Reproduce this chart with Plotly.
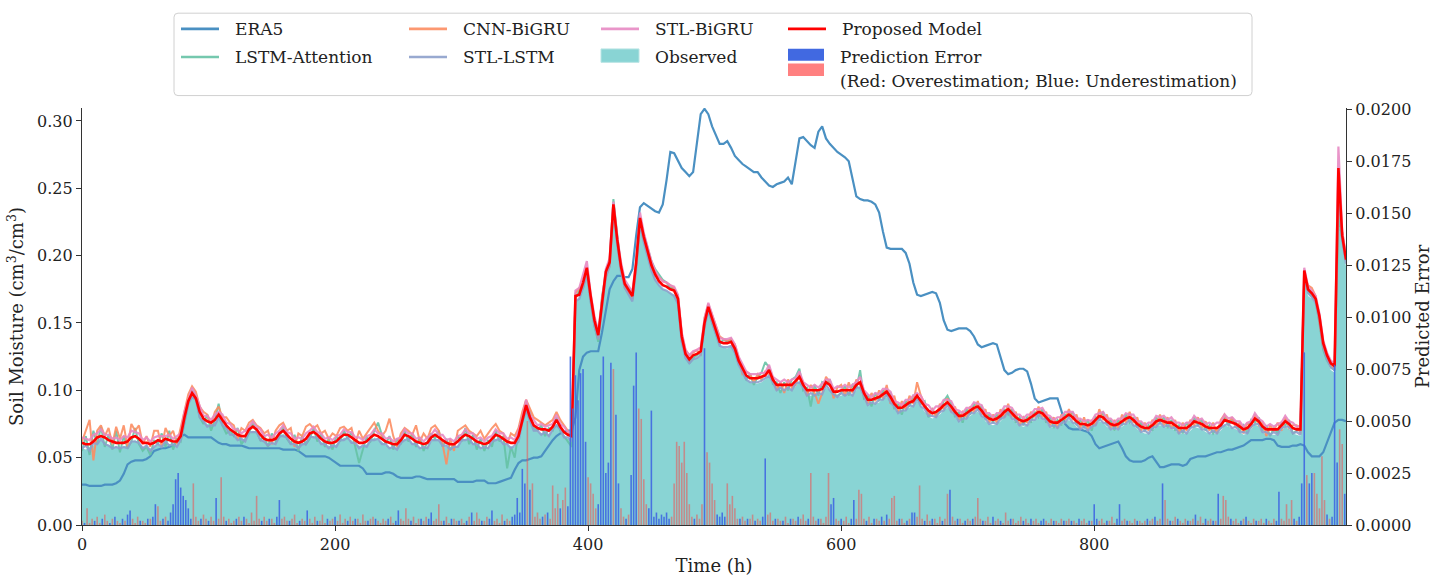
import plotly.graph_objects as go

# ---------------- data (values in 1e-3 cm3/cm3, hourly grid every 3 h) ----------------
hours = list(range(0, 1000, 3))          # 334 points, 0..999 h
err_hours = list(range(0, 1000, 2))      # 500 points, 0..998 h

era5_milli = [
    30,30,29,29,29,29,30,30,30,31,33,38,45,47,48,48,48,49,51,55,
    56,57,57,58,59,61,66,67,65,65,65,65,65,65,65,63,61,60,60,59,
    59,59,59,58,57,57,57,57,57,57,57,57,57,56,56,56,56,55,53,51,
    51,51,51,51,51,50,48,46,44,44,44,44,44,44,42,38,38,38,38,38,
    39,39,38,36,35,35,35,35,36,36,35,34,34,34,34,34,34,34,34,32,
    32,32,32,32,33,33,33,31,31,31,32,33,34,35,41,46,48,48,49,50,
    50,51,55,59,63,66,68,69,70,70,80,115,125,128,129,129,129,143,160,175,
    181,185,185,184,184,190,215,236,239,237,235,233,232,238,256,277,276,270,265,262,
    259,262,285,305,309,305,296,290,283,283,285,280,274,271,268,266,264,262,262,258,
    255,252,251,253,254,255,258,253,270,287,288,285,282,280,292,296,287,283,280,277,
    275,273,270,258,244,242,241,241,240,238,232,218,206,205,205,205,205,202,194,180,
    171,170,171,172,173,172,165,152,145,144,145,146,146,146,144,140,134,132,133,134,
    135,134,125,115,112,113,115,116,116,114,105,94,91,92,93,94,94,94,85,75,
    72,71,71,71,70,69,66,60,57,58,59,60,61,62,57,51,48,47,47,47,
    48,50,51,47,43,43,44,45,45,45,44,45,49,50,51,51,51,52,53,54,
    54,55,56,56,57,58,59,61,63,63,63,63,64,64,63,59,58,58,58,59,
    59,60,59,54,51,51,51,54,61,68,76,78,78,77,
]

lstm_attention_milli = [
    55,66,52,70,60,73,58,67,56,70,54,66,57,62,72,60,55,58,52,63,
    60,68,58,70,56,64,62,76,90,100,96,80,75,82,70,78,90,74,68,70,
    66,72,60,64,68,76,70,63,66,58,68,62,65,73,64,60,67,55,66,60,
    64,72,62,68,58,64,56,66,62,70,64,69,58,46,56,65,62,70,76,67,
    60,66,56,64,60,70,62,68,58,65,55,62,68,64,70,58,64,56,60,66,
    62,72,60,67,56,64,55,63,58,70,62,66,42,58,50,70,82,92,84,72,
    70,74,66,72,70,80,70,66,62,58,168,174,176,190,166,148,136,170,186,196,
    242,214,190,180,176,172,192,224,216,206,196,190,186,182,180,176,176,166,136,128,
    120,124,126,128,148,164,150,142,134,138,136,138,128,120,114,108,112,104,110,113,
    121,117,105,106,98,106,100,108,110,116,100,102,88,104,96,106,104,108,97,96,
    98,103,96,104,101,115,94,96,88,98,92,100,96,98,86,90,82,92,88,96,
    94,90,92,80,86,82,84,92,96,90,80,84,76,86,82,90,86,88,78,82,
    76,82,78,86,82,86,76,80,74,80,76,84,80,86,76,80,72,78,74,82,
    80,84,74,78,72,78,70,80,78,84,74,78,70,78,74,82,76,80,72,76,
    70,74,70,80,76,80,72,78,70,74,68,76,72,80,74,78,70,74,68,72,
    72,80,74,78,76,70,74,68,78,76,80,70,74,66,72,68,76,74,78,68,
    70,72,184,173,170,166,150,130,122,117,115,230,212,196,
]

cnn_bigru_milli = [
    62,70,78,48,70,74,66,72,60,73,64,74,58,75,70,74,60,66,58,70,
    70,58,72,66,70,60,72,84,97,103,99,88,84,82,74,84,88,80,80,76,
    74,64,72,70,76,78,74,72,68,70,60,70,74,76,70,72,58,68,66,73,
    75,72,74,68,70,64,68,66,72,73,70,72,60,70,64,68,72,76,70,66,
    70,79,66,58,68,72,70,67,74,62,68,64,72,74,70,60,45,64,55,70,
    72,74,70,68,66,70,64,68,72,75,70,68,60,68,66,72,84,93,86,80,
    78,76,74,76,78,84,78,74,70,64,172,176,178,188,168,150,138,168,184,192,
    236,210,190,176,172,168,192,226,212,202,192,188,184,181,180,178,176,170,142,130,
    126,128,130,126,154,164,156,148,140,138,137,138,134,124,112,114,112,106,112,108,
    114,112,110,100,106,98,108,102,104,112,106,96,104,98,90,98,110,106,94,102,
    104,96,106,98,108,104,96,90,98,92,100,94,104,90,96,84,92,86,96,90,
    106,96,90,82,86,80,90,86,94,84,88,78,84,80,88,84,92,82,86,76,
    82,76,86,80,90,80,84,74,80,76,84,80,88,80,84,74,80,72,82,78,
    86,78,82,72,80,70,78,74,86,78,82,72,78,72,82,76,84,76,80,70,
    76,70,78,74,82,74,80,72,78,68,76,70,78,74,80,72,77,70,76,68,
    78,82,76,80,72,76,68,76,72,82,74,76,66,74,70,76,70,80,72,74,
    74,68,186,178,176,170,152,132,124,118,116,240,218,200,
]

stl_lstm_milli = [
    57,59,55,61,60,64,60,59,57,58,57,58,57,62,62,61,57,59,55,58,
    60,58,62,59,60,58,63,76,90,95,93,80,77,73,74,74,80,74,72,67,
    67,63,64,62,69,69,69,63,62,59,61,60,66,66,65,60,60,57,60,60,
    66,65,65,60,60,57,59,58,63,63,65,61,61,57,59,58,63,63,64,60,
    60,57,58,56,61,63,64,60,60,57,58,57,63,63,63,59,59,56,58,58,
    63,63,64,60,60,57,58,57,62,63,64,60,60,57,59,62,76,85,78,70,
    70,67,69,66,71,74,71,65,65,62,166,168,176,186,166,148,138,162,184,192,
    234,208,188,176,171,166,190,224,210,200,189,182,178,175,174,172,170,164,136,124,
    120,123,124,126,147,159,150,142,133,132,132,133,128,119,113,108,106,106,106,107,
    109,111,106,100,102,100,102,100,105,106,102,96,98,96,98,97,104,100,97,95,
    98,96,98,96,102,102,96,89,91,90,93,93,97,91,88,83,85,85,89,88,
    94,88,86,81,81,80,84,85,89,84,82,77,79,79,83,83,86,81,79,75,
    76,75,79,80,84,79,78,74,75,74,78,78,82,79,78,73,74,72,76,76,
    80,76,75,71,73,70,73,74,79,76,75,71,72,71,75,75,78,74,73,69,
    70,68,72,73,76,73,74,72,72,68,70,68,72,73,74,71,71,68,70,68,
    72,74,75,72,73,69,69,68,73,75,75,69,69,67,69,67,72,73,73,68,
    69,67,184,172,169,165,152,132,123,117,115,250,212,194,
]

stl_bigru_milli = [
    65,64,63,67,68,71,67,67,64,65,63,66,65,70,69,68,63,65,62,65,
    66,66,66,67,64,66,68,84,94,102,96,88,81,81,78,82,84,82,76,75,
    71,71,68,70,73,77,73,71,66,67,65,68,70,74,69,68,64,65,64,68,
    70,73,69,68,64,65,63,66,67,71,69,69,65,65,63,66,67,71,68,68,
    64,65,62,64,65,71,68,68,64,65,62,65,67,71,67,67,63,64,62,66,
    67,71,68,68,64,65,62,65,66,71,68,68,64,65,63,70,80,93,82,78,
    74,75,73,74,75,82,75,73,69,70,174,176,186,196,172,155,144,168,190,198,
    240,214,195,182,177,173,196,232,217,207,196,189,184,181,180,178,177,171,143,130,
    126,129,130,132,153,165,156,148,139,138,138,139,134,125,119,114,112,112,112,113,
    113,119,110,108,106,108,106,108,109,114,106,104,102,104,102,105,108,108,101,103,
    102,104,102,104,106,110,100,97,95,98,97,101,101,99,92,91,89,93,93,96,
    98,96,90,89,85,88,88,93,93,92,86,85,83,87,87,91,90,89,83,83,
    80,83,83,88,88,87,82,82,79,82,82,86,86,87,82,81,78,80,80,84,
    84,84,79,79,77,78,77,82,83,84,79,79,76,79,79,83,82,82,77,77,
    74,76,76,81,80,81,78,80,76,76,74,76,76,81,78,79,75,76,74,76,
    76,82,79,80,77,77,73,76,77,83,79,77,73,75,73,75,76,81,77,76,
    73,74,191,177,174,170,157,137,128,122,120,281,218,199,
]

proposed_milli = [
    61,60,60,62,65,66,65,63,62,61,61,61,62,65,66,64,61,61,60,61,
    63,62,64,63,62,62,66,80,92,98,94,84,79,77,76,78,82,78,74,71,
    69,67,66,66,71,73,71,67,64,63,63,64,68,70,67,64,62,61,62,64,
    68,69,67,64,62,61,61,62,65,67,67,65,63,61,61,62,65,67,66,64,
    62,61,60,60,63,67,66,64,62,61,60,61,65,67,65,63,61,60,60,62,
    65,67,66,64,62,61,60,61,64,67,66,64,62,61,61,66,78,89,80,74,
    72,71,71,70,73,78,73,69,67,66,170,171,180,191,170,152,141,165,188,195,
    238,212,192,179,174,170,195,228,214,204,193,186,181,178,177,175,174,168,140,127,
    123,126,127,129,150,162,153,145,136,135,135,136,131,122,116,111,109,109,109,110,
    111,115,108,104,104,104,104,104,107,110,104,100,100,100,100,101,106,104,99,99,
    100,100,100,100,104,106,98,93,93,94,95,97,99,95,90,87,87,89,91,92,
    96,92,88,85,83,84,86,89,91,88,84,81,81,83,85,87,88,85,81,79,
    78,79,81,84,86,83,80,78,77,78,80,82,84,83,80,77,76,76,78,80,
    82,80,77,75,75,74,75,78,81,80,77,75,74,75,77,79,80,78,75,73,
    72,72,74,77,78,77,76,76,74,72,72,72,74,77,76,75,73,72,72,72,
    74,78,77,76,75,73,71,72,75,79,77,73,71,71,71,71,74,77,75,72,
    71,71,189,175,172,168,155,135,126,120,118,265,215,197,
]

observed_milli = [
    57,56,58,59,62,63,61,59,58,58,57,58,59,62,63,61,58,57,57,58,
    59,58,61,60,59,59,63,76,90,96,93,81,77,75,74,76,80,76,72,69,
    66,64,64,63,68,70,69,64,62,60,60,62,65,68,64,62,59,59,60,62,
    65,66,64,62,59,59,58,60,62,65,64,63,60,59,58,60,62,65,63,62,
    59,58,57,58,61,64,63,61,59,58,57,58,62,64,63,60,58,57,57,59,
    62,64,63,61,59,58,57,58,61,64,63,61,59,58,58,63,75,87,78,72,
    69,68,68,67,70,75,70,66,64,63,165,168,175,185,165,148,137,160,185,192,
    236,210,190,176,171,167,190,225,211,201,190,183,178,175,174,172,171,165,137,124,
    120,123,124,125,146,158,150,142,133,132,131,133,128,118,112,108,106,105,105,106,
    108,111,105,101,100,101,100,101,103,107,100,97,96,97,96,98,102,100,96,95,
    96,97,96,97,100,103,95,89,90,90,91,94,95,91,86,84,83,86,87,89,
    92,88,84,81,79,80,82,85,87,84,80,77,77,79,81,83,84,81,77,75,
    74,75,77,80,82,79,76,74,73,74,76,78,80,79,76,73,72,72,74,76,
    78,76,73,71,71,70,71,74,77,76,73,71,70,71,73,75,76,74,71,69,
    68,68,70,73,74,73,72,72,70,68,68,68,70,73,72,71,69,68,68,68,
    70,74,73,72,71,69,67,68,71,75,73,69,67,67,67,67,70,73,71,68,
    67,66,180,170,168,164,150,130,121,115,113,226,210,192,
]

# prediction error in 1e-4 units: + overestimation (red), - underestimation (blue)
error_e4 = [
    2,-1,8,1,3,-2,4,1,-3,5,2,-1,3,-4,2,1,-3,2,-5,-7,3,1,4,-2,2,1,-3,3,-4,-10,
    9,2,-3,4,-2,-6,-10,-22,-25,-18,-14,-12,-8,-3,20,4,2,-3,5,3,-2,4,2,-13,3,23,4,-2,3,1,
    2,-3,4,2,-4,3,1,6,2,14,3,-2,4,2,-3,3,1,-4,-12,3,4,2,-2,3,5,1,-2,3,2,-7,
    3,1,4,-2,2,5,1,-3,2,3,-4,2,5,1,3,-2,4,2,-3,3,1,5,2,-2,3,4,-3,2,1,3,
    2,-3,4,1,-2,-7,3,2,8,3,-2,4,1,3,-3,2,4,-3,-6,2,3,10,2,-2,4,1,-3,3,2,-2,
    3,1,-2,4,-6,2,6,3,-2,2,4,-3,-7,2,3,1,5,-2,3,2,-4,-5,-13,-6,-27,-20,50,-17,20,4,
    6,3,-4,5,-6,3,19,8,15,-8,12,18,-9,-81,-56,-72,-60,-73,-75,-40,23,20,15,8,-10,-72,-81,-25,-30,-78,
    75,-53,-20,8,4,-3,5,-24,-67,-83,56,51,22,10,-8,-55,-4,-6,-3,-5,-4,-6,-3,4,20,40,38,30,40,25,
    10,4,-3,5,3,10,-85,35,30,20,12,-5,-4,-6,-4,20,10,14,8,3,-3,4,2,-3,3,5,-2,3,2,-4,
    -32,5,6,2,-3,3,2,-2,4,1,-3,3,2,-4,3,5,2,-3,25,4,2,-3,3,1,4,25,-10,-13,3,2,
    -3,2,4,1,-3,-12,3,17,15,3,-2,4,1,-3,3,2,-4,2,-5,3,13,14,2,-3,3,1,-2,3,-6,-6,
    4,19,3,-2,5,2,-3,3,1,4,-2,3,15,-17,4,2,-3,3,1,-2,3,2,-3,4,13,3,-2,2,4,1,
    -4,2,3,-2,1,6,2,-3,3,1,2,4,-2,3,1,-3,2,3,1,-2,-3,2,1,3,-2,2,1,3,-2,2,
    3,-2,2,1,-3,2,3,1,-2,2,-10,-3,2,3,1,-2,2,4,1,-3,-10,2,3,-2,2,1,3,-2,2,1,
    2,-3,2,3,-4,2,3,-20,12,3,-2,2,4,-3,2,1,3,-2,2,3,-5,2,4,1,-3,2,3,-2,2,-15,
    3,14,12,4,-3,2,3,1,-2,3,-4,2,1,3,-2,2,3,1,-3,2,1,3,-2,-16,3,2,10,3,12,-3,
    2,-4,-20,-83,24,-20,-25,25,15,8,33,12,-5,3,-4,-77,-30,46,39,-15,
]

x_ticks = [0, 200, 400, 600, 800]
y_ticks = [0.00, 0.05, 0.10, 0.15, 0.20, 0.25, 0.30]
y2_ticks = [0.0, 0.0025, 0.005, 0.0075, 0.01, 0.0125, 0.015, 0.0175, 0.02]

# ---------------- conversions ----------------
def to_unit(vals, factor):
    return [v * factor for v in vals]

for name, arr in [("era5", era5_milli), ("lstm", lstm_attention_milli), ("cnn", cnn_bigru_milli),
                  ("stl_lstm", stl_lstm_milli), ("stl_bigru", stl_bigru_milli),
                  ("proposed", proposed_milli), ("observed", observed_milli)]:
    assert len(arr) == len(hours), (name, len(arr))
assert len(error_e4) == len(err_hours), len(error_e4)

era5 = to_unit(era5_milli, 1e-3)
lstm_att = to_unit(lstm_attention_milli, 1e-3)
cnn_bigru = to_unit(cnn_bigru_milli, 1e-3)
stl_lstm = to_unit(stl_lstm_milli, 1e-3)
stl_bigru = to_unit(stl_bigru_milli, 1e-3)
proposed = to_unit(proposed_milli, 1e-3)
observed = to_unit(observed_milli, 1e-3)
over_err = [e * 1e-4 if e > 0 else 0 for e in error_e4]
under_err = [-e * 1e-4 if e < 0 else 0 for e in error_e4]

# ---------------- styles ----------------
FONT = "DejaVu Serif"
TXT = "#222222"
C_ERA5 = "#4a90c2"
C_LSTM = "rgba(102,194,165,0.9)"
C_CNN = "rgba(252,141,98,0.9)"
C_STLL = "rgba(141,160,203,0.9)"
C_STLB = "rgba(231,138,195,0.9)"
C_OBS = "#89d4d4"
C_RED = "#ff0000"
C_BLUEBAR = "rgba(65,105,225,0.92)"
C_REDBAR = "rgba(232,92,92,0.6)"

fig = go.Figure()
fig.add_trace(go.Scatter(x=hours, y=observed, mode="lines", fill="tozeroy",
                         fillcolor=C_OBS, line=dict(width=0, color=C_OBS), name="Observed"))
fig.add_trace(go.Scatter(x=hours, y=era5, mode="lines", line=dict(color=C_ERA5, width=2.2), name="ERA5"))
fig.add_trace(go.Scatter(x=hours, y=lstm_att, mode="lines", line=dict(color=C_LSTM, width=2.0), name="LSTM-Attention"))
fig.add_trace(go.Scatter(x=hours, y=cnn_bigru, mode="lines", line=dict(color=C_CNN, width=2.0), name="CNN-BiGRU"))
fig.add_trace(go.Scatter(x=hours, y=stl_lstm, mode="lines", line=dict(color=C_STLL, width=2.2), name="STL-LSTM"))
fig.add_trace(go.Scatter(x=hours, y=stl_bigru, mode="lines", line=dict(color=C_STLB, width=2.2), name="STL-BiGRU"))
fig.add_trace(go.Scatter(x=hours, y=proposed, mode="lines", line=dict(color=C_RED, width=2.6), name="Proposed Model"))
fig.add_trace(go.Bar(x=err_hours, y=over_err, width=1.25, yaxis="y2",
                     marker=dict(color=C_REDBAR, line=dict(width=0)), name="Overestimation"))
fig.add_trace(go.Bar(x=err_hours, y=under_err, width=1.25, yaxis="y2",
                     marker=dict(color=C_BLUEBAR, line=dict(width=0)), name="Underestimation"))

# ---------------- manual legend (pixel layout -> paper coords) ----------------
PL, PR, PT, PB = 82, 1346, 108, 528
def px(x):
    return (x - PL) / (PR - PL)
def py(y):
    return (PB - y) / (PB - PT)

shapes = []
annotations = []
# rounded legend frame
bx0, bx1, by0, by1, r = 174, 1252, 12.5, 95.5, 4
rx, ry = r / (PR - PL), r / (PB - PT)
X0, X1, Y0, Y1 = px(bx0), px(bx1), py(by1), py(by0)
path = (f"M {X0+rx},{Y1} L {X1-rx},{Y1} Q {X1},{Y1} {X1},{Y1-ry} "
        f"L {X1},{Y0+ry} Q {X1},{Y0} {X1-rx},{Y0} L {X0+rx},{Y0} "
        f"Q {X0},{Y0} {X0},{Y0+ry} L {X0},{Y1-ry} Q {X0},{Y1} {X0+rx},{Y1} Z")
shapes.append(dict(type="path", path=path, xref="paper", yref="paper",
                   line=dict(color="#d0d0d0", width=1), fillcolor="rgba(255,255,255,0.85)", layer="above"))

line_items = [
    ("ERA5", C_ERA5, 181, 28.3),
    ("LSTM-Attention", C_LSTM, 181, 56.7),
    ("CNN-BiGRU", C_CNN, 409, 28.3),
    ("STL-LSTM", C_STLL, 409, 56.7),
    ("STL-BiGRU", C_STLB, 601, 28.3),
    ("Proposed Model", C_RED, 788, 28.3),
]
for label, col, x0, yc in line_items:
    shapes.append(dict(type="line", xref="paper", yref="paper", x0=px(x0), x1=px(x0 + 38),
                       y0=py(yc), y1=py(yc), line=dict(color=col, width=2.6), layer="above"))
    annotations.append(dict(text=label, xref="paper", yref="paper", x=px(x0 + 52), y=py(yc),
                            xanchor="left", yanchor="middle", showarrow=False,
                            font=dict(family=FONT, size=17, color=TXT)))
# patches
shapes.append(dict(type="rect", xref="paper", yref="paper", x0=px(601), x1=px(639), y0=py(62), y1=py(48.5),
                   fillcolor=C_OBS, line=dict(color="#b8e4e4", width=1), layer="above"))
annotations.append(dict(text="Observed", xref="paper", yref="paper", x=px(653), y=py(56.7),
                        xanchor="left", yanchor="middle", showarrow=False,
                        font=dict(family=FONT, size=17, color=TXT)))
shapes.append(dict(type="rect", xref="paper", yref="paper", x0=px(788), x1=px(824), y0=py(60.5), y1=py(48.3),
                   fillcolor="#4169e1", line=dict(width=0), layer="above"))
shapes.append(dict(type="rect", xref="paper", yref="paper", x0=px(788), x1=px(824), y0=py(75.7), y1=py(63.3),
                   fillcolor="#ff8080", line=dict(width=0), layer="above"))
annotations.append(dict(text="Prediction Error", xref="paper", yref="paper", x=px(838), y=py(56.7),
                        xanchor="left", yanchor="middle", showarrow=False,
                        font=dict(family=FONT, size=17, color=TXT)))
annotations.append(dict(text="(Red: Overestimation; Blue: Underestimation)", xref="paper", yref="paper",
                        x=px(838), y=py(80.7), xanchor="left", yanchor="middle", showarrow=False,
                        font=dict(family=FONT, size=17, color=TXT)))

axis_common = dict(showline=True, linecolor="#333333", linewidth=1.3, ticks="outside", ticklen=5,
                   tickwidth=1.2, tickcolor="#333333", showgrid=False, zeroline=False,
                   tickfont=dict(family=FONT, size=16, color=TXT))

fig.update_layout(
    width=1450, height=585,
    margin=dict(l=PL, r=1450 - PR, t=PT, b=585 - PB),
    paper_bgcolor="white", plot_bgcolor="white",
    showlegend=False, barmode="overlay",
    font=dict(family=FONT, color=TXT),
    xaxis=dict(range=[0, 999], tickvals=x_ticks, ticktext=[str(t) for t in x_ticks],
               title=dict(text="Time (h)", font=dict(family=FONT, size=18, color=TXT), standoff=6),
               **axis_common),
    yaxis=dict(range=[0, 0.3096], tickvals=y_ticks, ticktext=[f"{t:.2f}" for t in y_ticks],
               title=dict(text="Soil Moisture (cm<sup>3</sup>/cm<sup>3</sup>)",
                          font=dict(family=FONT, size=18, color=TXT), standoff=8),
               **axis_common),
    yaxis2=dict(overlaying="y", side="right", range=[0, 0.02005], tickvals=y2_ticks,
                ticktext=[f"{t:.4f}" for t in y2_ticks],
                title=dict(text="Predicted Error", font=dict(family=FONT, size=18, color=TXT), standoff=6),
                **axis_common),
    shapes=shapes,
    annotations=annotations,
)

fig.write_html("out.html")
